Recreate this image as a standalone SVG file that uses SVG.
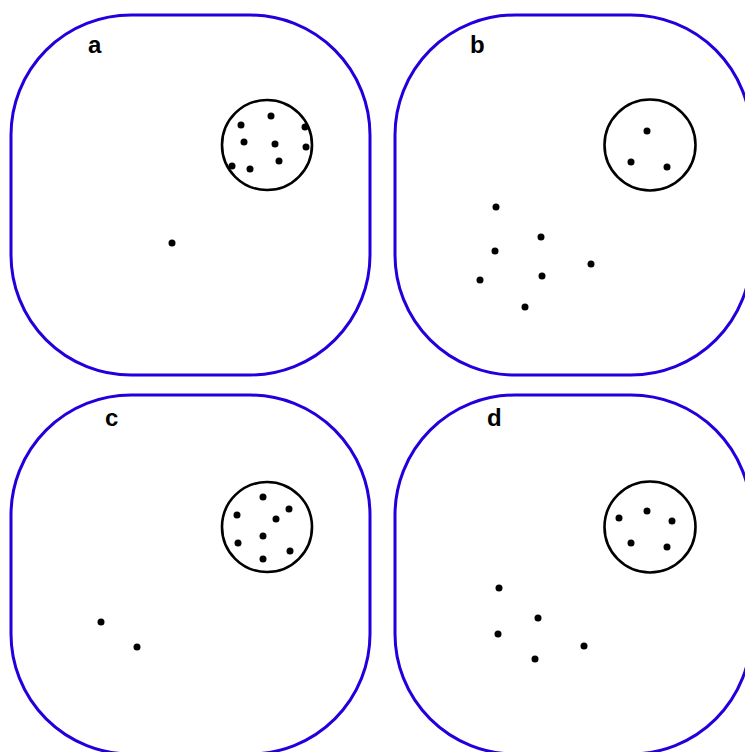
<svg xmlns="http://www.w3.org/2000/svg" width="745" height="752" viewBox="0 0 745 752">
<style>
.cell{fill:none;stroke:#2200dd;stroke-width:3}
.ring{fill:none;stroke:#000;stroke-width:2.6}
.dot{fill:#000}
.lbl{font-family:"Liberation Sans",Arial,sans-serif;font-weight:bold;font-size:24px;fill:#000}
</style>
<defs><circle id="d" r="3.5" class="dot"/></defs>
<rect width="745" height="752" fill="#fff"/>
<g id="panel-a">
<rect class="cell" x="11" y="15" width="359" height="360" rx="120" ry="120"/>
<text class="lbl" x="88" y="53">a</text>
<circle class="ring" cx="267" cy="145" r="45"/>
<use href="#d" x="271" y="116"/><use href="#d" x="241" y="125"/><use href="#d" x="305" y="127"/>
<use href="#d" x="244" y="142"/><use href="#d" x="275" y="144"/><use href="#d" x="306" y="147"/>
<use href="#d" x="279" y="161"/><use href="#d" x="232" y="166"/><use href="#d" x="250" y="169"/>
<use href="#d" x="172" y="243"/>
</g>
<g id="panel-b">
<rect class="cell" x="395" y="15" width="356" height="360" rx="120" ry="120"/>
<text class="lbl" x="470" y="53">b</text>
<circle class="ring" cx="650" cy="145" r="45.5"/>
<use href="#d" x="647" y="131"/><use href="#d" x="631" y="162"/><use href="#d" x="667" y="167"/>
<use href="#d" x="496" y="207"/><use href="#d" x="541" y="237"/><use href="#d" x="495" y="251"/>
<use href="#d" x="591" y="264"/><use href="#d" x="480" y="280"/><use href="#d" x="542" y="276"/>
<use href="#d" x="525" y="307"/>
</g>
<g id="panel-c">
<rect class="cell" x="11" y="395" width="359" height="359" rx="120" ry="120"/>
<text class="lbl" x="105" y="426">c</text>
<circle class="ring" cx="267" cy="527" r="45"/>
<use href="#d" x="263" y="497"/><use href="#d" x="289" y="509"/><use href="#d" x="237" y="515"/>
<use href="#d" x="276" y="519"/><use href="#d" x="263" y="536"/><use href="#d" x="238" y="543"/>
<use href="#d" x="290" y="551"/><use href="#d" x="263" y="559"/>
<use href="#d" x="101" y="622"/><use href="#d" x="137" y="647"/>
</g>
<g id="panel-d">
<rect class="cell" x="395" y="395" width="356" height="359" rx="120" ry="120"/>
<text class="lbl" x="487" y="426">d</text>
<circle class="ring" cx="650" cy="527" r="45.5"/>
<use href="#d" x="647" y="511"/><use href="#d" x="619" y="518"/><use href="#d" x="672" y="521"/>
<use href="#d" x="631" y="543"/><use href="#d" x="667" y="547"/>
<use href="#d" x="499" y="588"/><use href="#d" x="538" y="618"/><use href="#d" x="498" y="634"/>
<use href="#d" x="584" y="646"/><use href="#d" x="535" y="659"/>
</g>
<g id="connectors"></g>
</svg>
